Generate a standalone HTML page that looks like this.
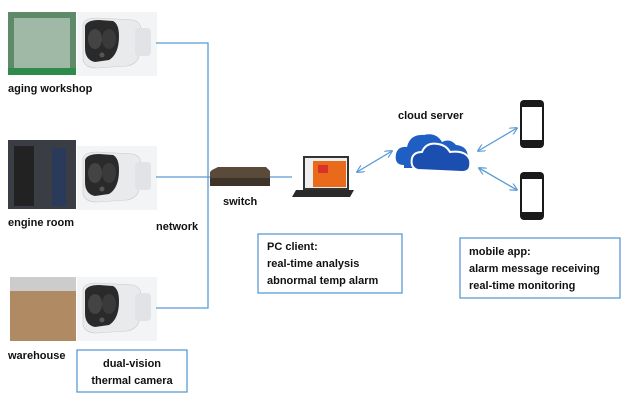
<!DOCTYPE html>
<html><head><meta charset="utf-8"><style>
body{margin:0;background:#fff;width:630px;height:400px;overflow:hidden}
text{font-family:"Liberation Sans",sans-serif;font-weight:bold;font-size:11px;fill:#111}
</style></head><body>
<svg width="630" height="400" viewBox="0 0 630 400" xmlns="http://www.w3.org/2000/svg">
<defs>
<g id="cam">
<rect x="0" y="0" width="80" height="64" fill="#f3f4f6"/>
<path d="M6 12 Q8 6 20 6 L56 8 Q64 10 64 18 L62 44 Q60 52 50 54 L20 56 Q8 56 6 48 Z" fill="#e9eaec" stroke="#ccc" stroke-width="0.6"/>
<rect x="58" y="16" width="16" height="28" rx="4" fill="#e2e3e6"/>
<path d="M8 14 Q10 8 22 8 L36 9 Q42 12 42 24 Q42 42 32 48 L18 50 Q8 48 8 36 Z" fill="#2a2a2a"/>
<ellipse cx="18" cy="27" rx="7" ry="10" fill="#444"/>
<ellipse cx="32" cy="27" rx="7" ry="10" fill="#3a3a3a"/>
<circle cx="25" cy="43" r="2.5" fill="#555"/>
</g>
<marker id="ah" viewBox="0 0 10 10" refX="9" refY="5" markerWidth="6" markerHeight="6" orient="auto-start-reverse"><path d="M0 0 L10 5 L0 10" fill="none" stroke="#5b9bd5" stroke-width="1.5"/></marker>
<g id="phone">
<rect x="0" y="0" width="24" height="48" rx="4" fill="#1a1a1a"/>
<rect x="2" y="7" width="20" height="33" fill="#fff"/>
</g>
</defs>
<!-- photos -->
<rect x="8" y="12" width="68" height="63" fill="#5f8a6a"/>
<rect x="14" y="18" width="56" height="50" fill="#9fb9a6"/>
<rect x="8" y="68" width="68" height="7" fill="#2e8b4a"/>
<use href="#cam" x="77" y="12"/>
<rect x="8" y="140" width="68" height="69" fill="#3a3d44"/>
<rect x="14" y="146" width="20" height="60" fill="#222"/>
<rect x="52" y="148" width="14" height="58" fill="#2a3a5a"/>
<use href="#cam" x="77" y="146"/>
<rect x="10" y="277" width="66" height="64" fill="#b08a62"/>
<rect x="10" y="277" width="66" height="14" fill="#ccc"/>
<use href="#cam" x="77" y="277"/>
<!-- network lines -->
<g stroke="#5b9bd5" stroke-width="1.3" fill="none">
<path d="M156 43 H208 V308 H156"/>
<path d="M156 177 H210"/>
<path d="M270 177 H292"/>
<line x1="357" y1="172" x2="392" y2="151" marker-start="url(#ah)" marker-end="url(#ah)"/>
<line x1="478" y1="151" x2="517" y2="128" marker-start="url(#ah)" marker-end="url(#ah)"/>
<line x1="479" y1="168" x2="517" y2="190" marker-start="url(#ah)" marker-end="url(#ah)"/>
</g>
<!-- switch -->
<path d="M212 170 L218 167 H266 L270 171 V186 H210 V172 Z" fill="#5a4a3a"/>
<rect x="210" y="178" width="60" height="8" fill="#3e3328"/>
<!-- laptop -->
<rect x="303" y="156" width="46" height="34" fill="#333"/>
<rect x="305" y="158" width="42" height="30" fill="#eee"/>
<rect x="313" y="161" width="33" height="26" fill="#e86a1a"/>
<rect x="318" y="165" width="10" height="8" fill="#d8322a"/>
<path d="M296 190 H354 L350 197 H292 Z" fill="#2a2a2a"/>
<!-- cloud -->
<path d="M404 165 Q394 165 396 154 Q398 146 407 147 Q410 134 424 135 Q436 132 442 142 Q450 138 456 145 Q468 146 468 158 Q468 168 458 168 H404 Z" fill="#1f5fc4"/>
<path d="M418 170 Q410 168 412 158 Q414 152 422 152 Q426 142 438 144 Q446 145 450 152 Q466 150 470 160 Q472 172 462 172 Z" fill="#1a4fb0" stroke="#fff" stroke-width="2"/>
<use href="#phone" x="520" y="100"/>
<use href="#phone" x="520" y="172"/>
<!-- boxes -->
<g fill="none" stroke="#5b9bd5" stroke-width="1.3">
<rect x="258" y="234" width="144" height="59"/>
<rect x="460" y="238" width="160" height="60"/>
<rect x="77" y="350" width="110" height="42"/>
</g>
<text x="8" y="92">aging workshop</text>
<text x="8" y="226">engine room</text>
<text x="156" y="230">network</text>
<text x="8" y="359">warehouse</text>
<text x="223" y="205">switch</text>
<text x="398" y="119">cloud server</text>
<text x="267" y="250">PC client:</text>
<text x="267" y="267">real-time analysis</text>
<text x="267" y="284">abnormal temp alarm</text>
<text x="469" y="255">mobile app:</text>
<text x="469" y="272">alarm message receiving</text>
<text x="469" y="289">real-time monitoring</text>
<text x="132" y="367" text-anchor="middle">dual-vision</text>
<text x="132" y="384" text-anchor="middle">thermal camera</text>
</svg>
</body></html>
